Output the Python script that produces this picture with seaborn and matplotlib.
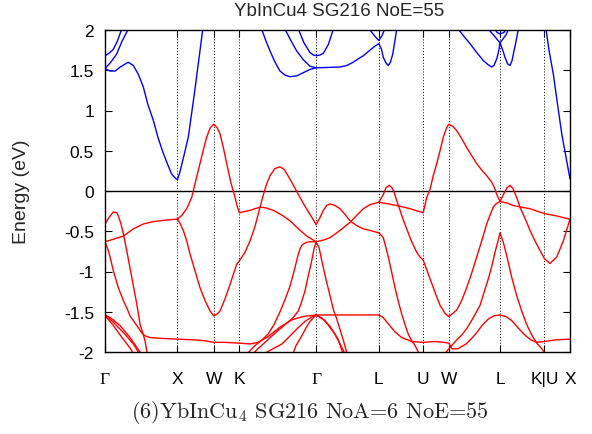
import pandas as pd
import matplotlib
matplotlib.use('Agg')
import matplotlib.pyplot as plt
import seaborn as sns

sns.set_theme(style='ticks')
plt.rcParams['font.family'] = ['Liberation Sans', 'DejaVu Sans']
plt.rcParams['mathtext.fontset'] = 'cm'

# high-symmetry points along the fcc path (2pi/a units)
kpoints = [0.0, 1.0, 1.5, 1.854, 2.914, 3.780, 4.393, 4.746, 5.453, 6.066, 6.419]
klabels = ['Γ', 'X', 'W', 'K', 'Γ', 'L', 'U', 'W', 'L', 'K|U', 'X']
yticks = [-2, -1.5, -1, -0.5, 0, 0.5, 1, 1.5, 2]
ylabels = ['-2', '-1.5', '-1', '-0.5', '0', '0.5', '1', '1.5', '2']

# conduction bands (k, E in eV)
c1a = [(0.00, 1.52), (0.07, 1.49), (0.14, 1.49), (0.21, 1.54), (0.32, 1.60), (0.39, 1.56),
       (0.46, 1.45), (0.53, 1.29), (0.59, 1.08), (0.67, 0.87), (0.73, 0.67), (0.80, 0.48),
       (0.86, 0.34), (0.92, 0.21), (0.97, 0.16), (1.00, 0.14), (1.035, 0.24), (1.09, 0.44),
       (1.15, 0.67), (1.24, 1.25), (1.35, 2.01), (1.40, 2.35)]
c2a = [(0.00, 1.52), (0.08, 1.60), (0.16, 1.70), (0.23, 1.85), (0.32, 2.01), (0.36, 2.10)]
c3a = [(0.00, 1.68), (0.055, 1.71), (0.115, 1.76), (0.17, 1.86), (0.23, 2.01), (0.26, 2.10)]
c1b = [(2.112, 2.15), (2.163, 2.01), (2.223, 1.86), (2.278, 1.74), (2.347, 1.60), (2.416, 1.49),
       (2.485, 1.44), (2.554, 1.42), (2.646, 1.43), (2.738, 1.47), (2.830, 1.51), (2.914, 1.53),
       (3.079, 1.535), (3.244, 1.54), (3.341, 1.56), (3.428, 1.60), (3.493, 1.64), (3.566, 1.68),
       (3.658, 1.75), (3.727, 1.80), (3.780, 1.83), (3.817, 1.76), (3.842, 1.66), (3.879, 1.59),
       (3.911, 1.56), (3.941, 1.60), (3.972, 1.70), (3.999, 1.85), (4.027, 2.01), (4.045, 2.10)]
c2b = [(2.457, 2.10), (2.485, 2.01), (2.565, 1.87), (2.646, 1.74), (2.738, 1.63), (2.830, 1.55),
       (2.914, 1.53)]
c3b = [(2.623, 2.10), (2.669, 2.01), (2.747, 1.84), (2.830, 1.72), (2.876, 1.69), (2.914, 1.68),
       (2.968, 1.69), (3.014, 1.71), (3.083, 1.82), (3.152, 2.01), (3.175, 2.10)]
c4b = [(3.617, 2.05), (3.658, 2.00), (3.727, 1.92), (3.780, 1.87), (3.824, 1.93), (3.879, 2.05)]
c5 = [(4.832, 2.10), (4.877, 2.01), (4.956, 1.92), (5.039, 1.83), (5.131, 1.72), (5.223, 1.62),
      (5.287, 1.57), (5.338, 1.54), (5.370, 1.56), (5.407, 1.64), (5.435, 1.74), (5.453, 1.84),
      (5.494, 1.74), (5.522, 1.66), (5.557, 1.58), (5.591, 1.56), (5.619, 1.62), (5.646, 1.74),
      (5.674, 1.86), (5.706, 2.01), (5.729, 2.10)]
c6 = [(5.260, 2.05), (5.292, 2.01), (5.370, 1.93), (5.453, 1.84), (5.536, 1.94), (5.591, 2.05)]
c7 = [(5.356, 2.05), (5.412, 1.97), (5.453, 1.95), (5.508, 1.97), (5.563, 2.05)]
c8 = [(6.060, 2.20), (6.088, 2.01), (6.129, 1.75), (6.189, 1.45), (6.240, 1.12), (6.305, 0.71),
      (6.364, 0.42), (6.419, 0.15)]

# valence bands
v1 = [(0.0, -0.63), (0.115, -0.60), (0.253, -0.56), (0.391, -0.47), (0.529, -0.41), (0.667, -0.38),
      (0.852, -0.36), (1.0, -0.35), (1.063, -0.30), (1.128, -0.22), (1.197, -0.08), (1.256, 0.14),
      (1.311, 0.34), (1.360, 0.52), (1.404, 0.67), (1.450, 0.78), (1.5, 0.83), (1.546, 0.79),
      (1.588, 0.71), (1.636, 0.53), (1.680, 0.34), (1.739, 0.10), (1.795, -0.08), (1.822, -0.18),
      (1.854, -0.27), (2.002, -0.24), (2.140, -0.20), (2.223, -0.21), (2.323, -0.24), (2.461, -0.31),
      (2.554, -0.37), (2.646, -0.45), (2.785, -0.56), (2.858, -0.60), (2.914, -0.63), (3.014, -0.61),
      (3.106, -0.58), (3.244, -0.49), (3.382, -0.39), (3.479, -0.30), (3.566, -0.22), (3.658, -0.17),
      (3.780, -0.14), (3.907, -0.16), (4.027, -0.18), (4.211, -0.22), (4.393, -0.27), (4.441, -0.08),
      (4.487, 0.02), (4.528, 0.18), (4.579, 0.34), (4.625, 0.50), (4.670, 0.67), (4.714, 0.78),
      (4.746, 0.83), (4.804, 0.80), (4.855, 0.75), (4.924, 0.65), (4.993, 0.54), (5.062, 0.44),
      (5.131, 0.34), (5.200, 0.26), (5.269, 0.19), (5.338, 0.11), (5.377, 0.04), (5.407, -0.04),
      (5.453, -0.13), (5.550, -0.15), (5.637, -0.18), (5.743, -0.20), (5.867, -0.22), (5.964, -0.25),
      (6.066, -0.28), (6.236, -0.31), (6.323, -0.33), (6.419, -0.35)]
v2 = [(0.0, -0.41), (0.055, -0.33), (0.115, -0.26), (0.162, -0.27), (0.184, -0.31), (0.221, -0.41),
      (0.253, -0.53), (0.300, -0.74), (0.369, -1.07), (0.438, -1.40), (0.483, -1.65), (0.520, -1.76),
      (0.552, -1.86), (0.576, -1.98), (0.587, -2.05)]
v3 = [(1.0, -0.35), (1.035, -0.40), (1.081, -0.49), (1.128, -0.62), (1.173, -0.78), (1.242, -0.99),
      (1.311, -1.20), (1.381, -1.36), (1.450, -1.49), (1.5, -1.55), (1.546, -1.53), (1.588, -1.49),
      (1.657, -1.34), (1.726, -1.16), (1.818, -0.91), (1.854, -0.87), (1.933, -0.76), (2.002, -0.62),
      (2.071, -0.44), (2.140, -0.20), (2.185, -0.05), (2.232, 0.09), (2.278, 0.19), (2.347, 0.28),
      (2.416, 0.30), (2.471, 0.27), (2.526, 0.19), (2.577, 0.11), (2.637, 0.01), (2.692, -0.08),
      (2.761, -0.19), (2.830, -0.29), (2.878, -0.36), (2.914, -0.42), (2.968, -0.33), (3.014, -0.24),
      (3.061, -0.18), (3.106, -0.16), (3.175, -0.18), (3.244, -0.22), (3.313, -0.29), (3.382, -0.37),
      (3.475, -0.43), (3.566, -0.47), (3.658, -0.49), (3.780, -0.52), (3.842, -0.58), (3.877, -0.70),
      (3.911, -0.82), (3.955, -1.00), (4.003, -1.20), (4.049, -1.37), (4.096, -1.53), (4.142, -1.66),
      (4.187, -1.78), (4.234, -1.86), (4.280, -1.92), (4.325, -2.00), (4.349, -2.05)]
v4 = [(0.0, -0.63), (0.046, -0.74), (0.083, -0.87), (0.115, -0.99), (0.184, -1.20), (0.253, -1.36),
      (0.300, -1.45), (0.345, -1.55), (0.438, -1.67), (0.507, -1.76), (0.552, -1.80), (0.621, -1.82),
      (0.759, -1.83), (1.0, -1.84), (1.242, -1.85), (1.381, -1.86), (1.5, -1.88), (1.657, -1.88),
      (1.854, -1.89), (2.002, -1.90), (2.112, -1.88), (2.250, -1.81), (2.416, -1.69), (2.582, -1.60),
      (2.733, -1.56), (2.914, -1.54), (3.106, -1.54), (3.382, -1.54), (3.658, -1.54), (3.780, -1.54),
      (3.838, -1.57), (3.911, -1.65), (4.003, -1.75), (4.096, -1.82), (4.234, -1.87), (4.393, -1.88),
      (4.556, -1.87), (4.680, -1.88), (4.746, -1.89), (4.790, -1.96), (4.873, -1.96), (4.984, -1.90),
      (5.053, -1.84), (5.131, -1.76), (5.205, -1.67), (5.292, -1.59), (5.370, -1.55), (5.453, -1.54),
      (5.536, -1.56), (5.615, -1.61), (5.702, -1.70), (5.798, -1.79), (5.881, -1.85), (5.960, -1.88),
      (6.066, -1.87), (6.212, -1.85), (6.419, -1.84)]
v5 = [(1.933, -2.05), (2.071, -1.92), (2.167, -1.85), (2.250, -1.78), (2.333, -1.66), (2.416, -1.50),
      (2.485, -1.35), (2.554, -1.18), (2.609, -1.00), (2.664, -0.80), (2.692, -0.72), (2.720, -0.67),
      (2.775, -0.64), (2.830, -0.63), (2.914, -0.63), (2.954, -0.70), (2.996, -0.88), (3.051, -1.10),
      (3.106, -1.30), (3.154, -1.48), (3.196, -1.58), (3.244, -1.72), (3.292, -1.86), (3.341, -2.02)]
v6 = [(3.780, -0.14), (3.838, -0.05), (3.879, 0.04), (3.921, 0.07), (3.962, 0.04), (3.997, -0.03),
      (4.027, -0.12), (4.073, -0.24), (4.118, -0.36), (4.165, -0.47), (4.224, -0.61), (4.303, -0.76),
      (4.349, -0.82), (4.393, -0.86), (4.487, -1.09), (4.556, -1.26), (4.625, -1.42), (4.694, -1.52),
      (4.746, -1.56), (4.855, -1.48), (4.924, -1.36), (4.993, -1.20), (5.062, -1.02), (5.131, -0.82),
      (5.200, -0.62), (5.269, -0.41), (5.315, -0.30), (5.360, -0.20), (5.398, -0.16), (5.453, -0.13),
      (5.508, -0.03), (5.550, 0.04), (5.591, 0.07), (5.632, 0.03), (5.683, -0.08), (5.729, -0.20),
      (5.798, -0.34), (5.867, -0.49), (5.936, -0.62), (6.005, -0.74), (6.066, -0.84), (6.143, -0.90),
      (6.236, -0.82), (6.327, -0.62), (6.419, -0.35)]
v7 = [(4.680, -2.03), (4.786, -1.92), (4.855, -1.85), (4.924, -1.79), (4.993, -1.71), (5.080, -1.58),
      (5.177, -1.42), (5.232, -1.26), (5.292, -1.09), (5.343, -0.92), (5.384, -0.76), (5.425, -0.62),
      (5.453, -0.52), (5.499, -0.64), (5.545, -0.80), (5.614, -1.07), (5.683, -1.30), (5.752, -1.49),
      (5.822, -1.66), (5.891, -1.79), (5.960, -1.89), (6.029, -1.96), (6.088, -2.03)]
h1 = [(2.043, -2.02), (2.112, -1.96), (2.305, -1.80), (2.485, -1.66), (2.600, -1.57), (2.669, -1.49),
      (2.713, -1.38), (2.761, -1.24), (2.807, -1.05), (2.853, -0.87), (2.885, -0.72), (2.914, -0.63)]
h2 = [(2.140, -2.05), (2.278, -1.98), (2.443, -1.90), (2.554, -1.80), (2.664, -1.70), (2.761, -1.62),
      (2.844, -1.57), (2.914, -1.54)]
h3 = [(2.582, -2.05), (2.637, -1.92), (2.716, -1.80), (2.775, -1.70), (2.830, -1.62), (2.914, -1.54)]
s2 = [(2.914, -1.54), (3.037, -1.61), (3.175, -1.78), (3.313, -2.02)]
s3 = [(2.914, -1.54), (2.996, -1.58), (3.106, -1.68), (3.217, -1.84), (3.286, -2.02)]
g1 = [(0.0, -1.54), (0.069, -1.57), (0.207, -1.67), (0.345, -1.82), (0.438, -1.94), (0.483, -2.0),
      (0.497, -2.03)]
g2 = [(0.0, -1.54), (0.115, -1.63), (0.276, -1.78), (0.391, -1.90), (0.460, -2.0), (0.469, -2.03)]
g3 = [(0.0, -1.55), (0.097, -1.65), (0.235, -1.82), (0.345, -1.95), (0.400, -2.03)]

bands = {
    'conduction': {'c1a': c1a, 'c2a': c2a, 'c3a': c3a, 'c1b': c1b, 'c2b': c2b, 'c3b': c3b,
                   'c4b': c4b, 'c5': c5, 'c6': c6, 'c7': c7, 'c8': c8},
    'valence': {'v1': v1, 'v2': v2, 'v3': v3, 'v4': v4, 'v5': v5, 'v6': v6, 'v7': v7,
                'h1': h1, 'h2': h2, 'h3': h3, 's2': s2, 's3': s3, 'g1': g1, 'g2': g2, 'g3': g3},
}

rows = []
for kind, group in bands.items():
    for name, pts in group.items():
        for k, e in pts:
            rows.append({'band': name, 'kind': kind, 'k': k, 'E': e})
df = pd.DataFrame(rows)

fig = plt.figure(figsize=(5.92, 4.35), dpi=100)
ax = fig.add_axes([105 / 592, 1 - 353 / 435, 465 / 592, 322 / 435])

sns.lineplot(data=df, x='k', y='E', hue='kind', units='band', estimator=None, sort=False,
             palette={'conduction': '#0000ff', 'valence': '#ff0000'}, linewidth=1.0,
             legend=False, ax=ax)

for k in kpoints[1:-1]:
    ax.axvline(k, color='black', linestyle=(0, (1, 2)), linewidth=0.7, zorder=0)
ax.axhline(0, color='black', linewidth=1.0, zorder=1)

ax.set_xlim(kpoints[0], kpoints[-1])
ax.set_ylim(-2, 2)
ax.set_xticks(kpoints)
ax.set_xticklabels(klabels)
ax.set_yticks(yticks)
ax.set_yticklabels(ylabels)
ax.set_xlabel('')
ax.set_ylabel('')
ax.tick_params(direction='in', top=True, right=True, length=5, width=0.8,
               color='black', labelcolor='black', labelsize=12.5)
ax.tick_params(axis='x', pad=14)
ax.tick_params(axis='y', pad=8)
for lab in ax.get_xticklabels():
    if lab.get_text() == 'Γ':
        lab.set_fontfamily('Liberation Serif')
for sp in ax.spines.values():
    sp.set_color('black')
    sp.set_linewidth(1.0)

fig.text(339 / 592, 1 - 11 / 435, 'YbInCu4 SG216 NoE=55', ha='center', va='center', fontsize=13.5)
fig.text(22 / 592, 1 - 192 / 435, 'Energy (eV)', ha='center', va='center', rotation=90, fontsize=14)
fig.text(310 / 592, 1 - 413 / 435, '(6)YbInCu$_4$ SG216 NoA=6 NoE=55',
         ha='center', va='center', fontsize=16, family=['cmr10', 'DejaVu Serif'])

fig.savefig('out.png', dpi=100)
